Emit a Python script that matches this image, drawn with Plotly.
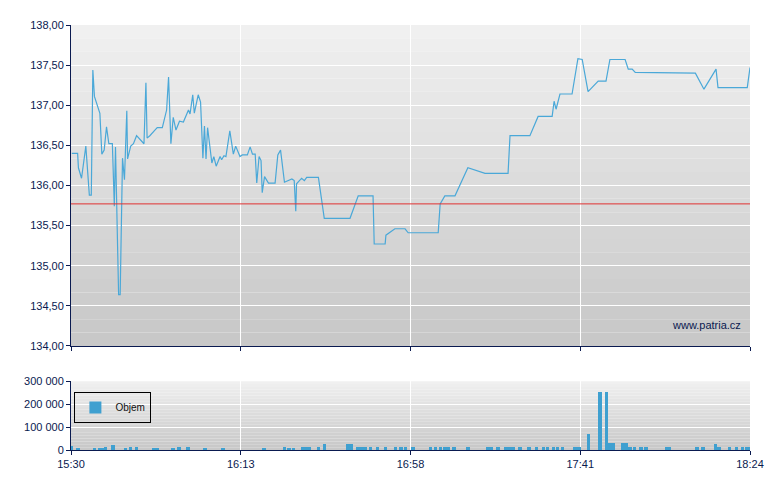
import plotly.graph_objects as go

# minutes after 15:30
t_min = [0.2, 1.7, 1.9, 2.7, 3.8, 4.7, 5.2, 5.6, 6.0, 7.4, 7.9, 8.5, 9.1, 9.7, 10.6, 11.1, 11.4,
         12.2, 12.6, 13.2, 13.7, 14.3, 14.5, 15.3, 16.0, 16.8, 18.7, 19.2, 19.5, 20.2, 21.5, 22.1,
         23.4, 24.5, 25.0, 25.6, 26.2, 26.9, 27.8, 28.8, 30.1, 30.5, 31.2, 31.6, 32.6, 33.2, 33.8,
         34.2, 34.6, 35.0, 36.1, 36.6, 37.2, 38.2, 38.6, 39.2, 39.7, 40.7, 41.6, 42.2, 43.3, 43.9,
         45.2, 45.9, 46.5, 47.2, 47.6, 48.2, 48.7, 49.0, 49.6, 50.6, 52.3, 53.0, 53.7, 54.7, 56.6,
         57.2, 57.6, 57.8, 59.1, 59.8, 60.4, 63.4, 64.9, 71.5, 73.6, 77.4, 77.7, 80.5, 80.7, 83.0,
         85.6, 86.4, 94.1, 94.6, 95.8, 98.4, 101.7, 106.1, 112.0, 112.5, 117.6, 119.7, 123.3, 123.8,
         124.3, 125.3, 128.4, 129.9, 131.0, 132.5, 135.1, 137.1, 138.1, 142.0, 142.8, 143.8, 144.6,
         160.0, 162.2, 165.3, 165.8, 173.3, 174.0]
price = [136.40, 136.40, 136.22, 136.09, 136.49, 135.88, 135.88, 137.44, 137.11, 136.90, 136.39,
         136.44, 136.73, 136.52, 136.52, 135.74, 136.48, 134.64, 134.64, 136.34, 136.07, 136.93,
         136.33, 136.49, 136.52, 136.62, 136.52, 137.28, 136.59, 136.62, 136.69, 136.72, 136.72,
         136.94, 137.35, 136.52, 136.85, 136.69, 136.80, 136.79, 136.94, 136.89, 137.13, 136.90,
         137.13, 137.04, 136.34, 136.74, 136.33, 136.72, 136.28, 136.36, 136.24, 136.36, 136.32,
         136.37, 136.36, 136.68, 136.39, 136.49, 136.36, 136.38, 136.38, 136.48, 136.39, 136.39,
         136.03, 136.36, 136.31, 135.91, 136.11, 136.03, 136.03, 136.38, 136.44, 136.04, 136.08,
         136.06, 135.68, 136.02, 136.09, 136.06, 136.10, 136.10, 135.59, 135.59, 135.87, 135.87,
         135.27, 135.27, 135.38, 135.46, 135.46, 135.41, 135.41, 135.77, 135.87, 135.87, 136.22,
         136.15, 136.15, 136.62, 136.62, 136.86, 136.86, 137.05, 136.95, 137.14, 137.14, 137.58,
         137.57, 137.17, 137.30, 137.30, 137.57, 137.57, 137.45, 137.45, 137.41, 137.40, 137.20,
         137.45, 137.22, 137.22, 137.47]
ref_price = 135.77

vol_t = [0, 1.8, 6.0, 7.3, 8.2, 8.8, 10.8, 14.0, 15.2, 16.8, 21.1, 22.1, 26.2, 27.7, 30.0, 34.4,
         38.9, 49.4, 54.7, 55.8, 57.0, 59.3, 60.2, 61.1, 63.4, 64.9, 70.8, 71.7, 73.6, 74.6, 75.5,
         76.8, 78.5, 80.6, 83.2, 84.5, 85.7, 87.7, 92.1, 93.4, 94.7, 95.7, 96.6, 98.1, 101.7, 106.8,
         107.8, 109.4, 111.3, 112.2, 113.2, 115.1, 117.3, 119.3, 121.1, 122.1, 123.6, 124.7, 125.9,
         129.1, 130.2, 132.6, 135.5, 137.2, 138.1, 139.0, 141.3, 142.2, 143.2, 144.4, 146.1, 147.4,
         152.7, 153.4, 160.4, 161.9, 165.1, 166.1, 168.7, 170.6, 172.1, 173.1, 173.8]
vol = [15000, 5000, 4000, 4000, 5000, 12000, 22000, 10000, 14000, 14000, 10000, 10000, 4000,
       14000, 14000, 4000, 4000, 4000, 14000, 6000, 5000, 14000, 14000, 14000, 14000, 26000, 27000,
       27000, 14000, 14000, 14000, 14000, 14000, 14000, 14000, 14000, 14000, 14000, 14000, 14000,
       14000, 14000, 14000, 14000, 14000, 14000, 14000, 14000, 14000, 14000, 14000, 14000, 14000,
       14000, 14000, 14000, 14000, 14000, 14000, 14000, 14000, 70000, 250000, 250000, 28000, 28000,
       28000, 28000, 14000, 14000, 14000, 14000, 14000, 14000, 14000, 14000, 27000, 14000, 14000,
       14000, 14000, 14000, 14000]

x_ticks = [0, 43.5, 87, 130.5, 174]
x_labels = ['15:30', '16:13', '16:58', '17:41', '18:24']
y_ticks = [134, 134.5, 135, 135.5, 136, 136.5, 137, 137.5, 138]
y_labels = ['134,00', '134,50', '135,00', '135,50', '136,00', '136,50', '137,00', '137,50', '138,00']
v_ticks = [0, 100000, 200000, 300000]
v_labels = ['0', '100 000', '200 000', '300 000']

navy = '#0a1a50'
fig = go.Figure()
fig.add_trace(go.Scatter(x=t_min, y=price, mode='lines', line=dict(color='#4aa8d8', width=1.2),
                         showlegend=False, xaxis='x', yaxis='y'))
fig.add_trace(go.Bar(x=vol_t, y=vol, width=0.9, marker=dict(color='#3fa0d0', line_width=0),
                     name='Objem', xaxis='x2', yaxis='y2'))

# gradient background bands
shapes = []
n = 24
for ax, top, bot in [('y', 240, 200), ('y2', 240, 200)]:
    for i in range(n):
        c = int(top - (top - bot) * i / (n - 1))
        shapes.append(dict(type='rect', xref='x domain' if ax == 'y' else 'x2 domain',
                           yref=ax + ' domain', x0=0, x1=1, y0=1 - (i + 1) / n, y1=1 - i / n,
                           fillcolor='rgb(%d,%d,%d)' % (c, c, c), line_width=0, layer='below'))
shapes.append(dict(type='line', xref='x domain', yref='y', x0=0, x1=1, y0=ref_price, y1=ref_price,
                   line=dict(color='#e03030', width=1)))

axis_common = dict(showline=True, linecolor=navy, linewidth=1, gridcolor='white', gridwidth=1,
                   ticks='outside', tickcolor=navy, ticklen=4, zeroline=False, automargin=False,
                   tickfont=dict(family='Liberation Sans', size=11, color=navy))
fig.update_layout(
    width=780, height=490, margin=dict(l=63, r=38, t=17, b=48),
    paper_bgcolor='white', plot_bgcolor='rgba(0,0,0,0)', shapes=shapes, bargap=0,
    xaxis=dict(axis_common, domain=[0, 1], range=[0, 174], tickvals=x_ticks, showticklabels=False,
               anchor='y'),
    yaxis=dict(axis_common, domain=[0.245, 1], range=[134, 138], tickvals=y_ticks, ticktext=y_labels),
    xaxis2=dict(axis_common, domain=[0, 1], range=[0, 174], tickvals=x_ticks, ticktext=x_labels,
                anchor='y2'),
    yaxis2=dict(axis_common, domain=[0, 0.162], range=[0, 300000], tickvals=v_ticks, ticktext=v_labels,
                anchor='x2'),
    legend=dict(x=0.005, y=0.1, xanchor='left', yanchor='middle', bgcolor='rgba(0,0,0,0)',
                bordercolor='black', borderwidth=1, itemwidth=30, tracegroupgap=0,
                font=dict(family='Liberation Sans', size=10, color='#111')),
    annotations=[dict(text='www.patria.cz', xref='x domain', yref='y domain', x=0.99, y=0.04,
                      xanchor='right', yanchor='bottom', showarrow=False,
                      font=dict(family='Liberation Sans', size=11, color=navy))],
)
fig.write_html("out.html")
